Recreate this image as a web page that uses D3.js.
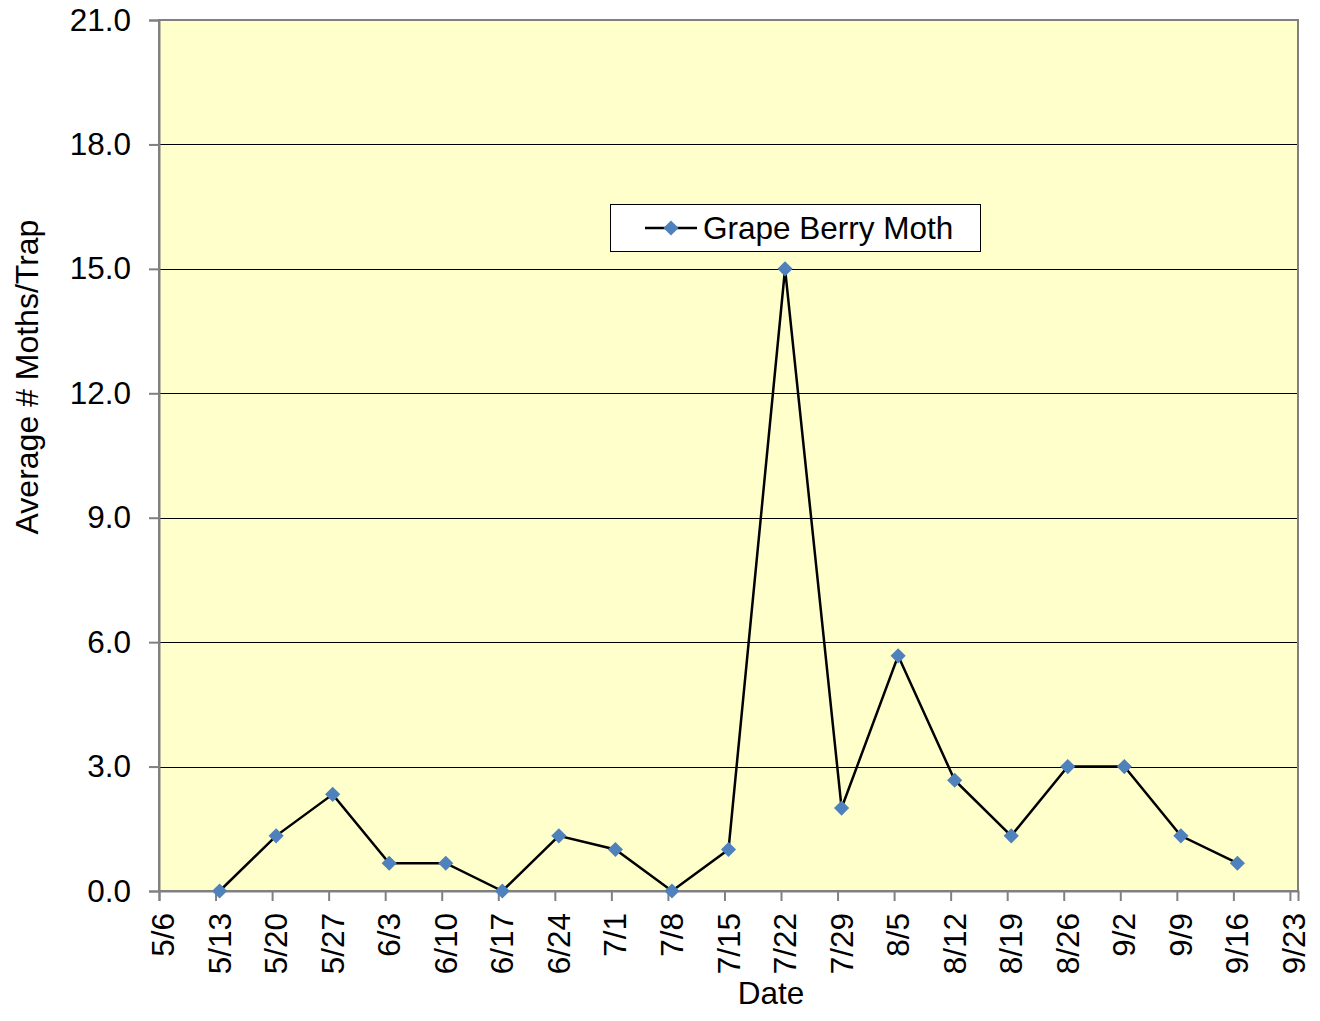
<!DOCTYPE html>
<html>
<head>
<meta charset="utf-8">
<script src="https://cdn.jsdelivr.net/npm/d3@7"></script>
<style>
  body { margin: 0; background: #fff; }
  text { font-family: "Liberation Sans", Arial, sans-serif; fill: #000; }
</style>
</head>
<body>
<script>
// data
var dates = ["5/13","5/20","5/27","6/3","6/10","6/17","6/24","7/1","7/8","7/15",
             "7/22","7/29","8/5","8/12","8/19","8/26","9/2","9/9","9/16"];
var moths = [0, 1.33, 2.33, 0.67, 0.67, 0, 1.33, 1, 0, 1,
             15, 2, 5.67, 2.67, 1.33, 3, 3, 1.33, 0.67];
var tickLabels = ["5/6","5/13","5/20","5/27","6/3","6/10","6/17","6/24","7/1","7/8","7/15",
                  "7/22","7/29","8/5","8/12","8/19","8/26","9/2","9/9","9/16","9/23"];
var yTicks = [0, 3, 6, 9, 12, 15, 18, 21];
var seriesName = "Grape Berry Moth";

var W = 1320, H = 1021;
var pLeft = 159, pRight = 1298, pTop = 20, pBottom = 891;
var fs = "31.5px";

function parse(s, hour) {
  var p = s.split("/");
  return new Date(2009, +p[0] - 1, +p[1], hour || 0);
}

var svg = d3.select("body").append("svg")
    .attr("width", W)
    .attr("height", H);

var x = d3.scaleTime()
  .domain([parse("5/6"), parse("9/24")])
  .range([pLeft, pRight]);

var y = d3.scaleLinear()
  .domain([0, 21])
  .range([pBottom, pTop]);

// plot background
svg.append("rect")
  .attr("x", pLeft).attr("y", pTop)
  .attr("width", pRight - pLeft).attr("height", pBottom - pTop)
  .attr("fill", "#FFFFCC");

// gridlines
svg.append("g")
  .selectAll("line")
  .data(yTicks.slice(1, -1))
  .enter().append("line")
    .attr("x1", pLeft).attr("x2", pRight)
    .attr("y1", d => Math.round(y(d)) + 0.5).attr("y2", d => Math.round(y(d)) + 0.5)
    .attr("stroke", "#000").attr("stroke-width", 1);

// plot border
svg.append("rect")
  .attr("x", pLeft).attr("y", pTop)
  .attr("width", pRight - pLeft).attr("height", pBottom - pTop)
  .attr("fill", "none")
  .attr("stroke", "#808080").attr("stroke-width", 2);

// y axis
var yAxis = svg.append("g")
  .attr("transform", "translate(" + pLeft + ",0)")
  .call(d3.axisLeft(y).tickValues(yTicks).tickSize(10).tickPadding(18)
    .tickFormat(d3.format(".1f")));
yAxis.select(".domain").attr("stroke", "#808080").attr("stroke-width", 2);
yAxis.selectAll(".tick line").attr("stroke", "#808080").attr("stroke-width", 2);
yAxis.selectAll("text").style("font-size", fs).attr("fill", "#000")
  .style("font-family", "Liberation Sans, Arial, sans-serif");

// x axis: tick marks at midnight, labels centred on the day
var tickDates = tickLabels.map(d => parse(d));
var xAxis = svg.append("g")
  .attr("transform", "translate(0," + pBottom + ")")
  .call(d3.axisBottom(x).tickValues(tickDates).tickSize(10).tickFormat(""));
xAxis.select(".domain").attr("stroke", "#808080").attr("stroke-width", 2);
xAxis.selectAll(".tick line").attr("stroke", "#808080").attr("stroke-width", 2);

svg.append("g")
  .selectAll("text")
  .data(tickLabels)
  .enter().append("text")
    .attr("transform", d => "translate(" + x(parse(d, 12)) + "," + (pBottom + 22) + ")rotate(-90)")
    .attr("dy", "0.35em")
    .attr("text-anchor", "end")
    .style("font-size", fs)
    .text(d => d);

// line + markers
var pts = dates.map((d, i) => ({date: parse(d, 12), v: moths[i]}));

svg.append("path")
  .datum(pts)
  .attr("fill", "none")
  .attr("stroke", "#000")
  .attr("stroke-width", 2.5)
  .attr("d", d3.line().x(d => x(d.date)).y(d => y(d.v)));

var diamond = d3.symbol().type(d3.symbolSquare).size(115);
svg.append("g")
  .selectAll("path")
  .data(pts)
  .enter().append("path")
    .attr("d", diamond)
    .attr("transform", d => "translate(" + x(d.date) + "," + y(d.v) + ")rotate(45)")
    .attr("fill", "#4F81BD");

// axis titles
svg.append("text")
  .attr("x", 771)
  .attr("y", 1004)
  .attr("text-anchor", "middle")
  .style("font-size", fs)
  .text("Date");

svg.append("text")
  .attr("transform", "translate(38,377)rotate(-90)")
  .attr("text-anchor", "middle")
  .style("font-size", "32px")
  .text("Average # Moths/Trap");

// legend
var lg = svg.append("g");
lg.append("rect")
  .attr("x", 610.5).attr("y", 204.5)
  .attr("width", 370).attr("height", 47)
  .attr("fill", "#fff").attr("stroke", "#000").attr("stroke-width", 1);
lg.append("line")
  .attr("x1", 645).attr("x2", 697).attr("y1", 228).attr("y2", 228)
  .attr("stroke", "#000").attr("stroke-width", 2.5);
lg.append("path")
  .attr("d", diamond)
  .attr("transform", "translate(671,228)rotate(45)")
  .attr("fill", "#4F81BD");
lg.append("text")
  .attr("x", 703).attr("y", 239)
  .style("font-size", fs)
  .text(seriesName);
</script>
</body>
</html>
